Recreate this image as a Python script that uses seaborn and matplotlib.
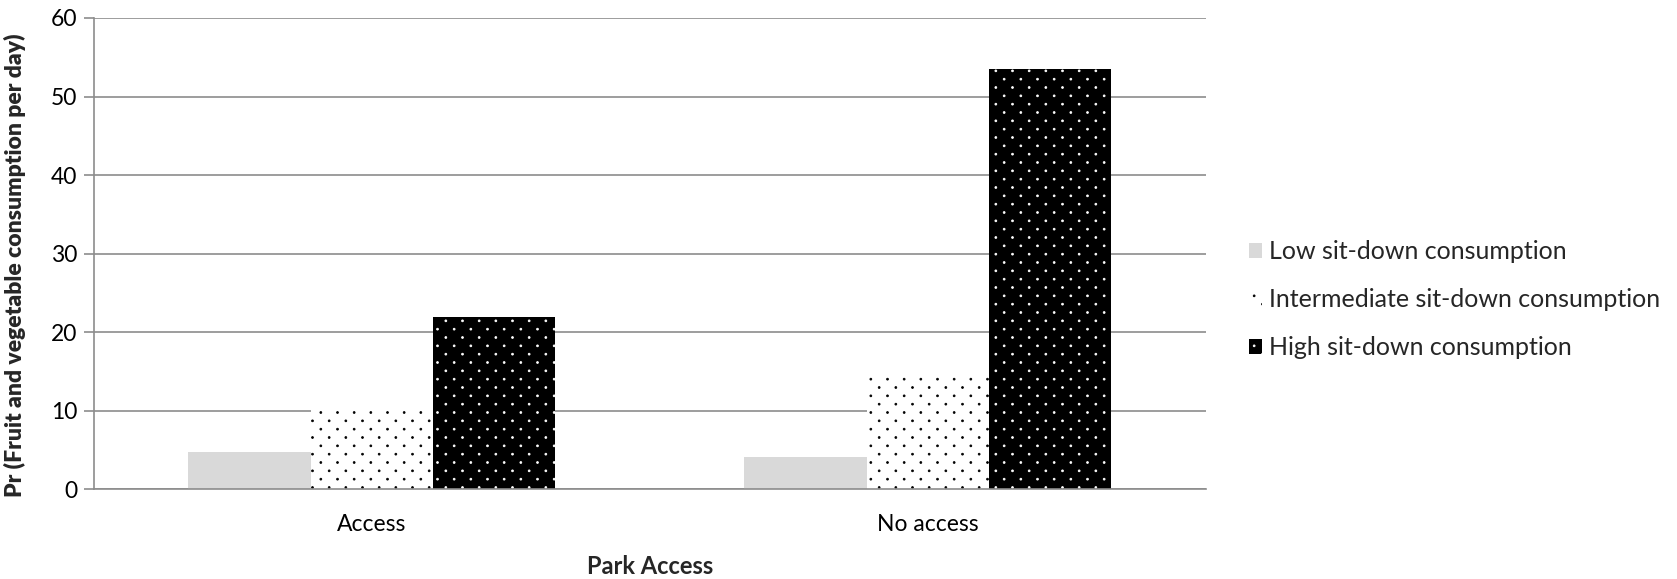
import matplotlib
matplotlib.use("Agg")
import matplotlib.pyplot as plt
import matplotlib.hatch as mhatch
from matplotlib.path import Path
from matplotlib.patches import Patch
import numpy as np
import pandas as pd
import seaborn as sns

# Chart data
categories = ["Access", "No access"]
series_names = [
    "Low sit-down consumption",
    "Intermediate sit-down consumption",
    "High sit-down consumption",
]
low_values = [4.7, 4.1]
intermediate_values = [10.3, 14.5]
high_values = [21.9, 53.5]
y_ticks = [0, 10, 20, 30, 40, 50, 60]


class DiagonalDots(mhatch.SmallFilledCircles):
    """Small dots on a 45-degree lattice (every other dot per row)."""

    size = 0.11

    def __init__(self, hatch, density):
        circle = Path.unit_circle()
        self.shape_vertices = circle.vertices
        self.shape_codes = circle.codes
        self.num_rows = hatch.count(".") * density
        if self.num_rows == 0:
            self.num_shapes = 0
            self.num_vertices = 0
        else:
            self.num_shapes = self.num_rows * (self.num_rows // 2)
            self.num_vertices = self.num_shapes * len(self.shape_vertices)

    def set_vertices_and_codes(self, vertices, codes):
        n = self.num_rows
        step = 1.0 / n
        shape = self.shape_vertices * step * self.size
        v_parts, c_parts = [], []
        for row in range(n):
            y = (row + 0.5) * step
            for j in range(n // 2):
                x = (2 * j + (row % 2) + 0.5) * step
                v_parts.append(shape + [x, y])
                c_parts.append(self.shape_codes)
        np.concatenate(v_parts, out=vertices)
        np.concatenate(c_parts, out=codes)


mhatch._hatch_types = [
    DiagonalDots if t is mhatch.SmallFilledCircles else t
    for t in mhatch._hatch_types
]

sns.set_theme(style="white")
plt.rcParams["font.family"] = ["Lato", "DejaVu Sans"]
plt.rcParams["hatch.linewidth"] = 0.6

df = pd.DataFrame({
    "access": categories * 3,
    "level": np.repeat(series_names, len(categories)),
    "value": low_values + intermediate_values + high_values,
})

fig = plt.figure(figsize=(16.77, 5.79), dpi=100)
ax = fig.add_axes([0.056, 0.155, 0.663, 0.814])

sns.barplot(
    data=df, x="access", y="value", hue="level", hue_order=series_names,
    palette=["#d9d9d9", "white", "black"], saturation=1, width=0.66,
    errorbar=None, legend=False, ax=ax,
)

# fill / hatch style per series: (face, hatch colour, hatch)
styles = [
    ("#d9d9d9", "#d9d9d9", None),
    ("white", "black", ".."),
    ("black", "white", ".."),
]
for container, (face, hcol, hatch) in zip(ax.containers, styles):
    for bar in container:
        bar.set_facecolor(face)
        bar.set_edgecolor(hcol)
        bar.set_hatch(hatch)
        bar.set_linewidth(0)

grey = "#8c8c8c"
ax.set_ylim(0, 60)
ax.set_yticks(y_ticks)
ax.yaxis.grid(True, color=grey, linewidth=1.2)
ax.set_axisbelow(True)
for side in ("top", "right"):
    ax.spines[side].set_visible(False)
for side in ("left", "bottom"):
    ax.spines[side].set_color(grey)
    ax.spines[side].set_linewidth(1.2)

ax.tick_params(axis="y", which="major", left=True, length=7, width=1.2,
               color=grey, pad=5, labelsize=16.5, labelcolor="black")
ax.tick_params(axis="x", length=0, pad=18, labelsize=16.5, labelcolor="black")

ax.set_xlabel("Park Access", fontsize=17, fontweight="bold", labelpad=14)
ax.set_ylabel("Pr (Fruit and vegetable consumption per day)", fontsize=16.5,
              fontweight="heavy")
ax.yaxis.set_label_coords(-0.061, 0.476)

handles = [
    Patch(facecolor=face, edgecolor=hcol, hatch=hatch, linewidth=0)
    for face, hcol, hatch in styles
]
fig.legend(
    handles, series_names, loc="center left",
    bbox_to_anchor=(0.745, 0.482), bbox_transform=fig.transFigure,
    frameon=False, fontsize=18, handlelength=0.5, handleheight=0.5,
    handletextpad=0.3, labelspacing=1.0, borderpad=0, borderaxespad=0,
)

fig.savefig("out.png", dpi=100)
